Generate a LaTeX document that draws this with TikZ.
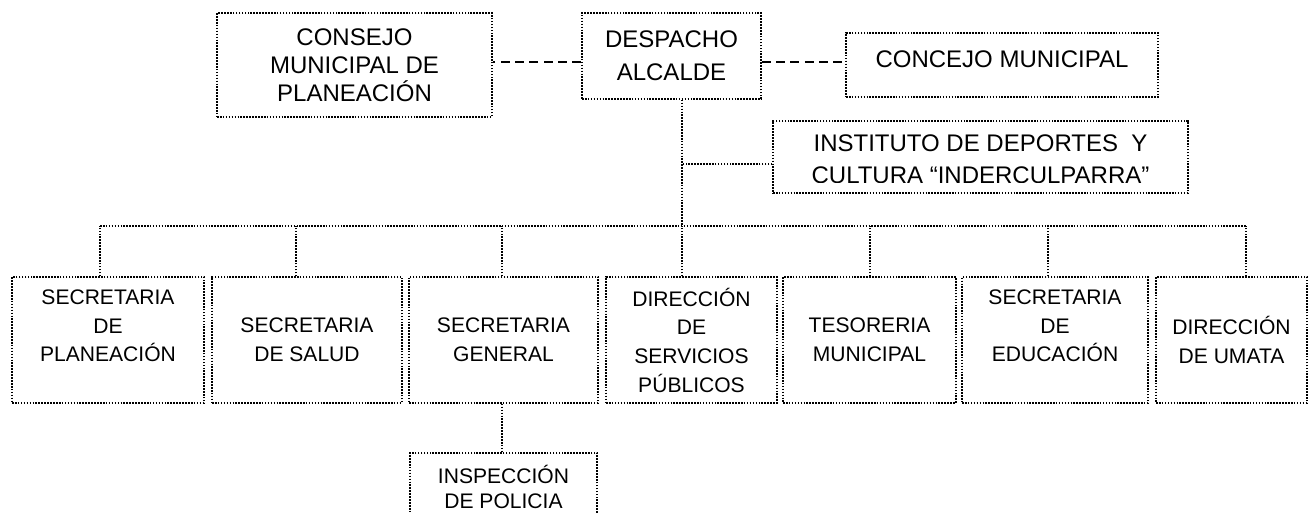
\documentclass[tikz,border=0pt]{standalone}
\usepackage{fontspec}
\setmainfont{Liberation Sans}

\begin{document}
\begin{tikzpicture}[x=0.75pt, y=-0.75pt,
    org box/.style={draw, densely dotted, line width=1.2pt, rectangle, align=center, inner sep=2pt},
    top font/.style={font=\fontsize{18}{21}\selectfont},
    low font/.style={font=\fontsize{15.8}{21.5}\selectfont},
    unit box/.style={org box, low font, minimum height=94.5pt},
    org link/.style={densely dotted, line width=1.2pt},
    dash link/.style={line width=1.1pt, dash pattern=on 6.75pt off 4pt}]
    \useasboundingbox[fill=white] (0,0) rectangle (1312,513);

    % top level
    \node[org box, minimum width=134.25pt, minimum height=64.5pt, font=\fontsize{18}{24.75}\selectfont] (despacho) at (671.5,56) {DESPACHO\\ALCALDE};
    \node[org box, top font, minimum width=206.25pt, minimum height=78pt] (consejo) at (354.5,65) {CONSEJO\\MUNICIPAL DE\\PLANEACIÓN};
    \node[org box, top font, minimum width=234pt, minimum height=48pt, text depth=9pt] (concejo) at (1002,65) {CONCEJO MUNICIPAL};
    \node[org box, minimum width=311.25pt, minimum height=54pt] (inder) at (980.5,157) {};
    \begin{scope}
        \clip (773,121) rectangle (1188,182.2);
        \node[align=center, font=\fontsize{18}{24}\selectfont, inner sep=0pt] (indertext) at (980.5,159) {INSTITUTO DE DEPORTES\ \ Y\\CULTURA “INDERCULPARRA”};
    \end{scope}

    % secretarias
    \node[unit box, minimum width=144pt] (plan) at (108,340) {SECRETARIA\\DE\\PLANEACIÓN\\ \mbox{}};
    \node[unit box, minimum width=142.5pt] (salud) at (307,340) {SECRETARIA\\DE SALUD};
    \node[unit box, minimum width=141.75pt] (general) at (503.5,340) {SECRETARIA\\GENERAL};
    \node[unit box, minimum width=128.25pt] (serv) at (691.5,340) {DIRECCIÓN\\DE\\SERVICIOS\\PÚBLICOS};
    \node[unit box, minimum width=129.75pt] (teso) at (869.5,340) {TESORERIA\\MUNICIPAL};
    \node[unit box, minimum width=139.5pt] (edu) at (1055,340) {SECRETARIA\\DE\\EDUCACIÓN\\ \mbox{}};
    \node[unit box, minimum width=113.25pt] (umata) at (1231.5,340) {DIRECCIÓN\\DE UMATA};
    \node[org box, minimum width=140.25pt, minimum height=69.75pt, anchor=north, font=\fontsize{15.8}{18.75}\selectfont] (insp) at (503.5,452) {INSPECCIÓN\\DE POLICIA\\ \mbox{}};

    \coordinate (bus) at (682,226);

    \draw[dash link] ([yshift=-4.5pt]despacho.west) -- ([yshift=-4.5pt]despacho.west -| consejo.east);
    \draw[dash link] ([yshift=-4.5pt]despacho.east) -- ([yshift=-4.5pt]despacho.east -| concejo.west);
    \draw[org link] (despacho.south -| bus) -- (bus);
    \draw[org link] ([yshift=-5.25pt]inder.west) -- ([yshift=-5.25pt]inder.west -| bus);
    \draw[org link] ([xshift=-6pt]plan.north |- bus) -- ([xshift=10.875pt]umata.north |- bus);
    \foreach \unit/\dx in {plan/-6pt, salud/-8.25pt, general/-1.125pt, serv/-7.125pt, teso/0.375pt, edu/-5.25pt, umata/10.875pt}
        \draw[org link] ([xshift=\dx]\unit.north) -- ([xshift=\dx]\unit.north |- bus);
    \draw[org link] ([xshift=-1.125pt]general.south) -- ([xshift=-1.125pt]general.south |- insp.north);
\end{tikzpicture}
\end{document}
